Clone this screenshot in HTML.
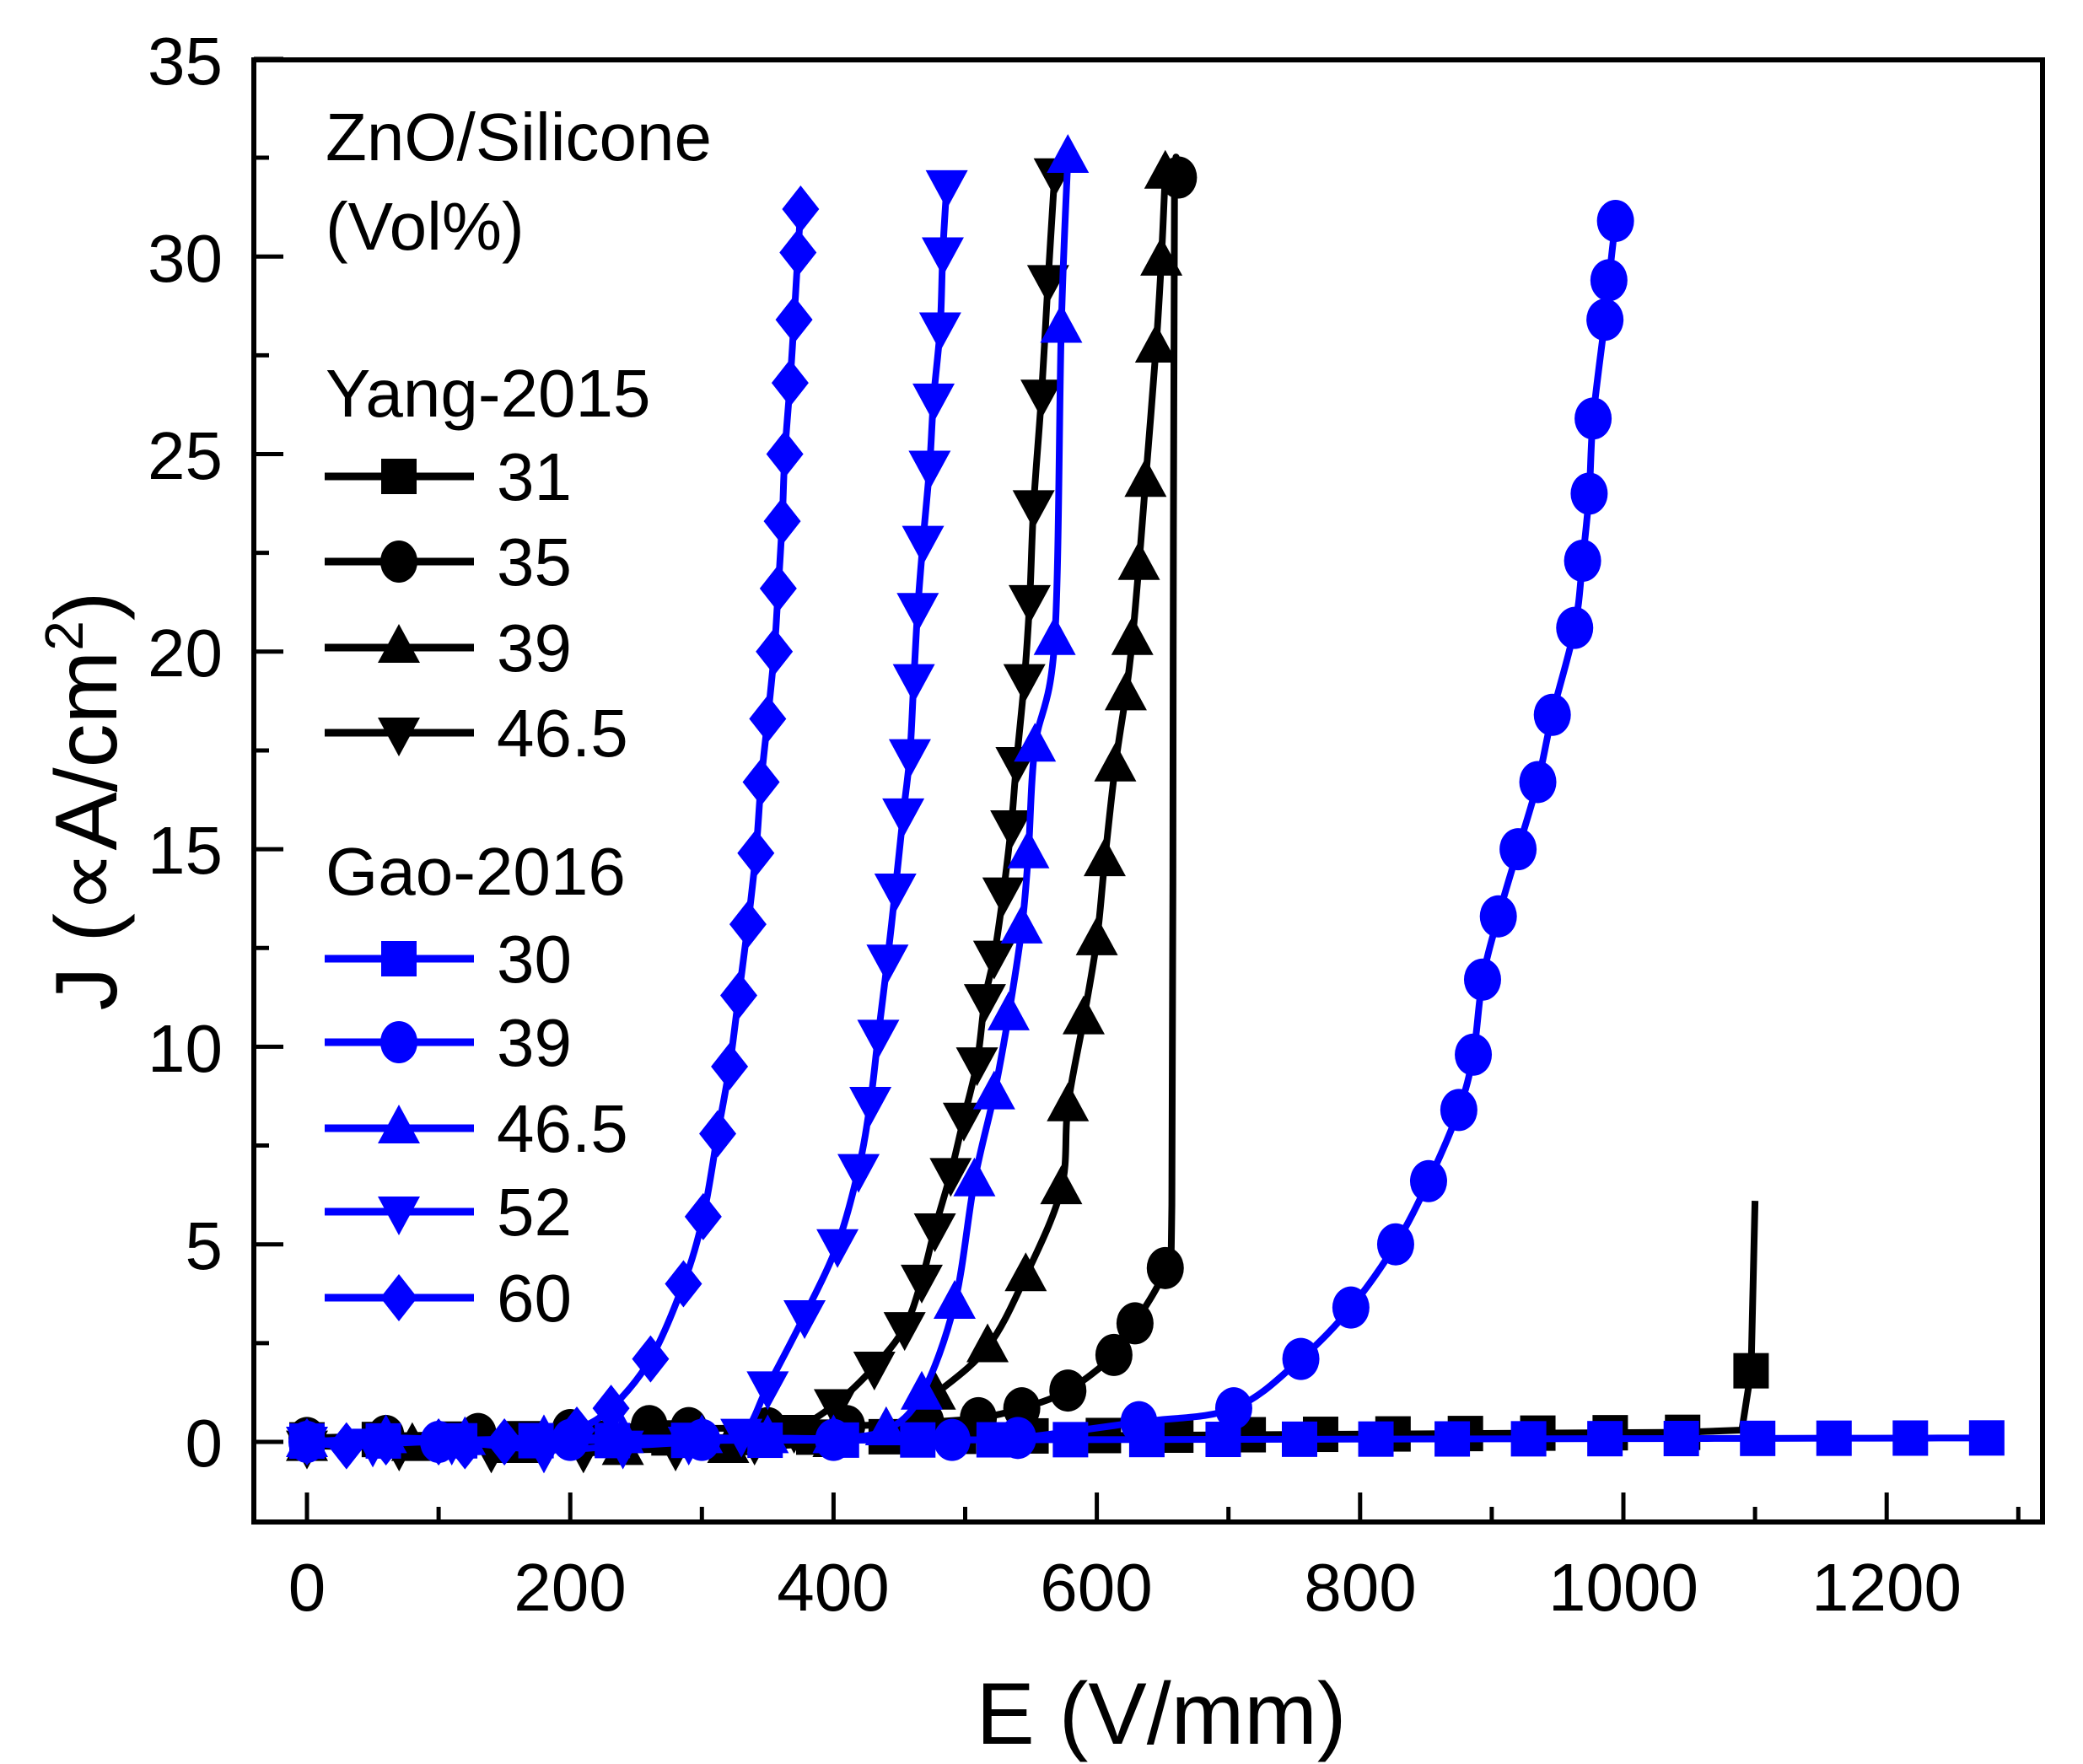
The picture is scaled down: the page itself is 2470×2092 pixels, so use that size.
<!DOCTYPE html>
<html><head><meta charset="utf-8"><style>
html,body{margin:0;padding:0;background:#fff}
svg{display:block}
text{font-family:"Liberation Sans",Arial,sans-serif;fill:#000}
</style></head><body>
<svg id="s" width="2470" height="2092" viewBox="0 0 2470 2092" xmlns="http://www.w3.org/2000/svg">
<g id="plot"></g>
<rect x="301" y="71" width="2121" height="1734" fill="none" stroke="#000" stroke-width="6"/>
<g id="ticks" stroke="#000" stroke-width="5"></g>
<g font-size="80" text-anchor="end">
<text x="264" y="1739">0</text>
<text x="264" y="1505">5</text>
<text x="264" y="1271">10</text>
<text x="264" y="1036">15</text>
<text x="264" y="802">20</text>
<text x="264" y="568">25</text>
<text x="264" y="334">30</text>
<text x="264" y="100">35</text>
</g>
<g font-size="80" text-anchor="middle">
<text x="364" y="1910">0</text>
<text x="676" y="1910">200</text>
<text x="988" y="1910">400</text>
<text x="1300" y="1910">600</text>
<text x="1613" y="1910">800</text>
<text x="1925" y="1910">1000</text>
<text x="2237" y="1910">1200</text>
</g>
<text x="1377" y="2068" font-size="104" text-anchor="middle">E (V/mm)</text>
<text transform="translate(138,950) rotate(-90)" font-size="104" text-anchor="middle">J (∝A/cm<tspan font-size="64" dy="-40">2</tspan><tspan dy="40">)</tspan></text>
<g font-size="80">
<text x="386" y="190">ZnO/Silicone</text>
<text x="386" y="296">(Vol%)</text>
<text x="386" y="494">Yang-2015</text>
<text x="589" y="593">31</text>
<text x="589" y="694">35</text>
<text x="589" y="796">39</text>
<text x="589" y="897">46.5</text>
<text x="386" y="1061">Gao-2016</text>
<text x="589" y="1165">30</text>
<text x="589" y="1264">39</text>
<text x="589" y="1366">46.5</text>
<text x="589" y="1465">52</text>
<text x="589" y="1567">60</text>
</g>
<g id="leg"></g>
</svg>
<script>
var NS="http://www.w3.org/2000/svg";
function X(v){return 364+v*1.561;}
function Y(v){return 1710-v*46.86;}
function el(p,t,a){var e=document.createElementNS(NS,t);for(var k in a)e.setAttribute(k,a[k]);p.appendChild(e);return e;}
var plot=document.getElementById('plot'),ticks=document.getElementById('ticks'),leg=document.getElementById('leg');
for(var v=0;v<=35;v+=2.5){var y=Y(v);var L=(v%5==0)?35:18;el(ticks,'line',{x1:301,y1:y,x2:301+L,y2:y});}
for(var v=0;v<=1300;v+=100){var x=X(v);var L=(v%200==0)?35:18;el(ticks,'line',{x1:x,y1:1805,x2:x,y2:1805-L});}
function marker(g,type,cx,cy,col){
 if(type=='sq')el(g,'rect',{x:cx-21,y:cy-21,width:42,height:42,fill:col});
 else if(type=='ci')el(g,'ellipse',{cx:cx,cy:cy,rx:22,ry:25,fill:col});
 else if(type=='up')el(g,'polygon',{points:(cx)+','+(cy-28)+' '+(cx+25)+','+(cy+18)+' '+(cx-25)+','+(cy+18),fill:col});
 else if(type=='dn')el(g,'polygon',{points:(cx)+','+(cy+28)+' '+(cx+25)+','+(cy-18)+' '+(cx-25)+','+(cy-18),fill:col});
 else if(type=='di')el(g,'polygon',{points:(cx)+','+(cy-28)+' '+(cx+22)+','+cy+' '+(cx)+','+(cy+28)+' '+(cx-22)+','+cy,fill:col});
}
function path(pts){
 var P=pts.map(function(p){return [X(p[0]),Y(p[1])];});
 var d='M'+P[0][0]+','+P[0][1];
 for(var i=0;i<P.length-1;i++){
  var p0=P[i-1]||P[i],p1=P[i],p2=P[i+1],p3=P[i+2]||P[i+1];
  var c1x=p1[0]+(p2[0]-p0[0])/6,c1y=p1[1]+(p2[1]-p0[1])/6,c2x=p2[0]-(p3[0]-p1[0])/6,c2y=p2[1]-(p3[1]-p1[1])/6;
  d+=' C'+c1x+','+c1y+' '+c2x+','+c2y+' '+p2[0]+','+p2[1];
 }
 return d;
}
function poly(pts){return 'M'+pts.map(function(p){return X(p[0])+','+Y(p[1]);}).join(' L');}
function series(pts,type,col,extraLine,straight){
 var g=el(plot,'g',{});
 var lp=extraLine||pts;
 el(g,'path',{d:straight?poly(lp):path(lp),fill:'none',stroke:col,'stroke-width':8,'stroke-linejoin':'round'});
 pts.forEach(function(p){marker(g,type,X(p[0]),Y(p[1]),col);});
}
var K='#000',B='#0000ff';
var y31=[];for(var x=0;x<=1090;x+=55)y31.push([x,0.05+0.2*x/1090]);
var y31l=y31.concat([[1090,0.3],[1097,1.8],[1100,6.1]]);
y31.push([1097,1.8]);
series(y31,'sq',K,y31l,true);
var y35=[[0,0.1],[60,0.15],[130,0.2],[200,0.3],[260,0.4],[290,0.35],[350,0.35],[410,0.4],[470,0.5],[510,0.6],[543,0.85],[578,1.3],[613,2.2],[629,3],[652,4.4]];
series(y35.concat([[662,32]]),'ci',K,y35.concat([[657,6],[658,20],[659,31.5],[662,32]]));
series([[0,-0.1],[80,-0.1],[160,-0.15],[240,-0.2],[320,-0.15],[400,0],[440,0.3],[477,1.2],[517,2.4],[546,4.2],[573,6.4],[578,8.5],[590,10.7],[600,12.7],[606,14.7],[614,17.1],[622,18.9],[627,20.3],[632,22.2],[637,24.3],[645,27.7],[649,29.9],[652,32.1]],'up',K);
series([[0,-0.1],[70,-0.15],[140,-0.2],[210,-0.2],[280,-0.15],[340,0],[370,0.3],[401,0.95],[431,1.9],[454,2.9],[467,4.1],[477,5.4],[489,6.8],[499,8.2],[509,9.6],[515,11.2],[522,12.3],[529,13.9],[535,15.6],[539,17.2],[545,19.3],[549,21.3],[552,23.7],[558,26.5],[563,29.4],[568,32.1]],'dn',K);
var g30=[];for(var i=0;i<=22;i++){var x=i*1276/22;g30.push([x,0.02+0.08*x/1276]);}
series(g30,'sq',B);
series([[0,0],[100,0],[200,0.05],[300,0.05],[400,0.05],[490,0.05],[540,0.1],[632,0.5],[704,0.85],[755,2.1],[793,3.4],[827,5],[852,6.6],[875,8.4],[886,9.8],[893,11.7],[905,13.3],[920,15],[935,16.7],[946,18.4],[963,20.6],[969,22.3],[974,24],[977,25.9],[986,28.4],[989,29.4],[994,30.9]],'ci',B);
series([[0,0],[60,0.1],[120,0.05],[180,0.1],[240,0.1],[300,0.1],[350,0.1],[400,0.1],[440,0.3],[467,1.2],[492,3.5],[507,6.6],[522,8.8],[533,10.8],[543,13],[548,14.9],[553,17.6],[568,20.3],[573,28.2],[578,32.5]],'up',B);
series([[0,0],[50,-0.05],[110,0],[180,-0.2],[240,-0.1],[290,0],[330,0.2],[350,1.4],[378,3.2],[403,5],[419,6.9],[428,8.6],[434,10.3],[441,12.2],[447,14],[453,15.9],[458,17.4],[461,19.3],[464,21.1],[468,22.8],[473,24.7],[476,26.4],[481,28.2],[483,30.1],[486,31.8]],'dn',B);
series([[0,0],[30,-0.1],[60,0],[100,0],[120,-0.1],[150,0],[180,0],[205,0.3],[231,0.85],[261,2.1],[286,4],[301,5.7],[312,7.8],[321,9.5],[328,11.3],[335,13.1],[341,14.9],[345,16.7],[350,18.3],[355,20],[358,21.6],[361,23.3],[363,25],[367,26.8],[370,28.4],[373,30.1],[375,31.2]],'di',B);
var L=[[565,'sq',K],[666,'ci',K],[768,'up',K],[869,'dn',K],[1137,'sq',B],[1236,'ci',B],[1338,'up',B],[1437,'dn',B],[1539,'di',B]];
L.forEach(function(l){el(leg,'line',{x1:385,y1:l[0],x2:562,y2:l[0],stroke:l[2],'stroke-width':9});marker(leg,l[1],473,l[0],l[2]);});
</script>
</body></html>
